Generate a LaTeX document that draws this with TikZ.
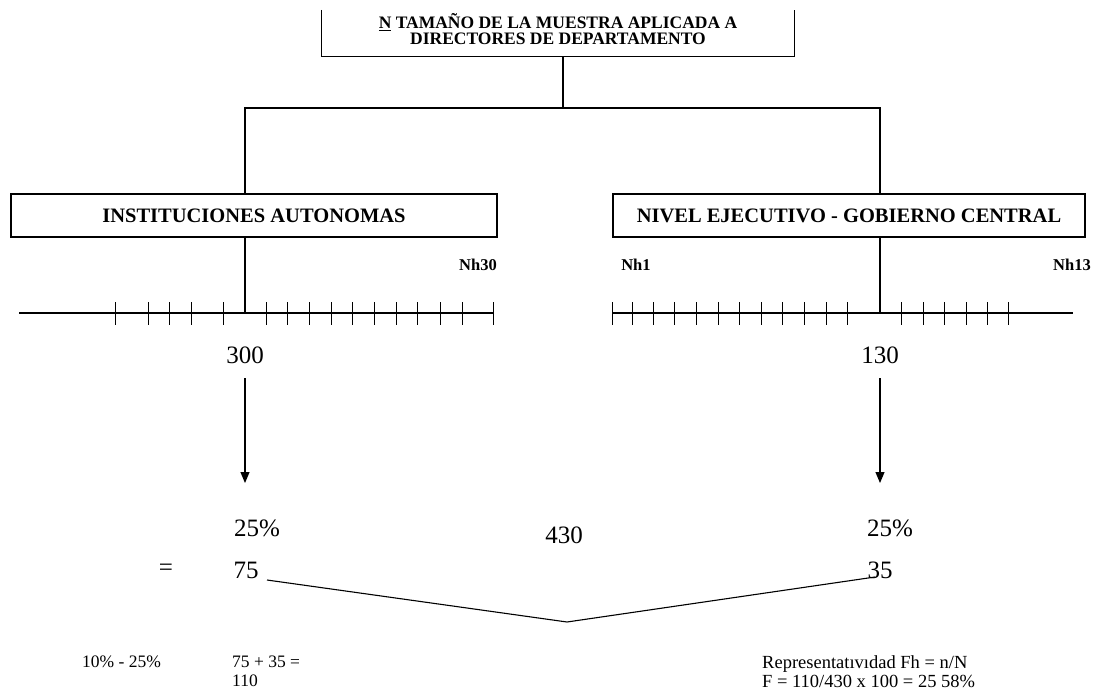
\documentclass[tikz,border=0pt]{standalone}
\usepackage{fontspec}
\setmainfont{Liberation Serif}
\usepackage{tikz}
\usetikzlibrary{positioning, arrows.meta}
\tikzset{
caja/.style={draw, line width=1.1pt, inner sep=0, font=\fontsize{20.5}{22}\selectfont\bfseries},
cifra/.style={inner sep=0, font=\fontsize{25}{28}\selectfont},
nota/.style={inner sep=0, anchor=west, align=left, font=\fontsize{17.5}{19}\selectfont},
etiqueta/.style={inner sep=0, font=\fontsize{16.5}{18}\selectfont\bfseries},
enlace/.style={line width=1.1pt},
regla/.style={line width=1.2pt},
marca/.style={line width=1pt},
flecha/.style={enlace, -{Triangle[length=11pt, width=9pt]}}}

\begin{document}
\begin{tikzpicture}[x=1pt, y=-1pt]
\useasboundingbox (0,0) rectangle (1104,691);
\node [inner sep=0, minimum width=472pt, minimum height=39pt, align=center,
       font=\fontsize{17.5}{16}\selectfont\bfseries] at (558,29.5) (muestra)
      {\underline{N} TAMAÑO DE LA MUESTRA APLICADA A\\DIRECTORES DE DEPARTAMENTO};
\draw [enlace] (muestra.north west) -- ([yshift=-7pt]muestra.south west) -- ([yshift=-7pt]muestra.south east) -- (muestra.north east);
\node [caja, minimum width=486pt, minimum height=43pt] at (254,215.5) (inst) {INSTITUCIONES AUTONOMAS};
\node [caja, minimum width=472pt, minimum height=43pt] at (849,215.5) (nivel) {NIVEL EJECUTIVO - GOBIERNO CENTRAL};

\coordinate (split) at (563,108);
\coordinate (split-l) at (245,108);
\coordinate (split-r) at (880,108);
\draw [enlace] ([yshift=-7pt]muestra.south -| split) -- (split);
\draw [enlace] (inst.north -| split-l) -- (split-l) -- (split-r) -- (nivel.north -| split-r);

% escalas
\coordinate (axL-a) at (19,313);
\coordinate (axL-b) at (493,313);
\coordinate (axL-m) at (245,313);
\coordinate (axR-a) at (612,313);
\coordinate (axR-b) at (1073,313);
\coordinate (axR-m) at (880,313);
\draw [regla] (axL-a) -- (axL-b);
\draw [regla] (axR-a) -- (axR-b);
\draw [enlace] (inst.south -| axL-m) -- (axL-m);
\draw [enlace] (nivel.south -| axR-m) -- (axR-m);
\foreach \x in {115,148,169,191,223,266,287,309,331,352,374,396,417,440,462,493}{
      \draw [marca] (\x,302) -- (\x,325);
}
\foreach \x in {612,632,653,674,696,718,739,761,782,804,826,847,901,923,944,966,987,1008}{
      \draw [marca] (\x,302) -- (\x,325);
}
\node [etiqueta] at (478,265) (nh30) {Nh30};
\node [etiqueta] at (636,265) (nh1) {Nh1};
\node [etiqueta] at (1072,265) (nh13) {Nh13};

\node [cifra] at (245,355) (n300) {300};
\node [cifra] at (880,355) (n130) {130};
\coordinate (tip-l) at (245,483);
\coordinate (tip-r) at (880,483);
\draw [flecha] ([yshift=-23pt]n300.center) -- (tip-l);
\draw [flecha] ([yshift=-23pt]n130.center) -- (tip-r);

\node [cifra] at (257,528) (pct-l) {25\%};
\node [cifra] at (890,528) (pct-r) {25\%};
\node [cifra] at (564,535) (total) {430};
\node [cifra] at (166,570) (igual) {=};
\node [cifra] at (246,570) (n75) {75};
\node [cifra] at (880,570) (n35) {35};
\coordinate (v-l) at (267,580);
\coordinate (v-m) at (567,622);
\coordinate (v-r) at (875,577);
\draw [enlace] (v-l) -- (v-m) -- (v-r);

\node [nota] at (82,662) (rango) {10\% - 25\%};
\node [nota] at (232,671.5) (suma) {75 + 35 =\\110};
\node [nota, font=\fontsize{18.5}{19}\selectfont] at (762,671.5) (repr)
      {Representatıvıdad Fh = n/N\\F = 110/430 x 100 = 25 58\%};
\end{tikzpicture}
\end{document}
